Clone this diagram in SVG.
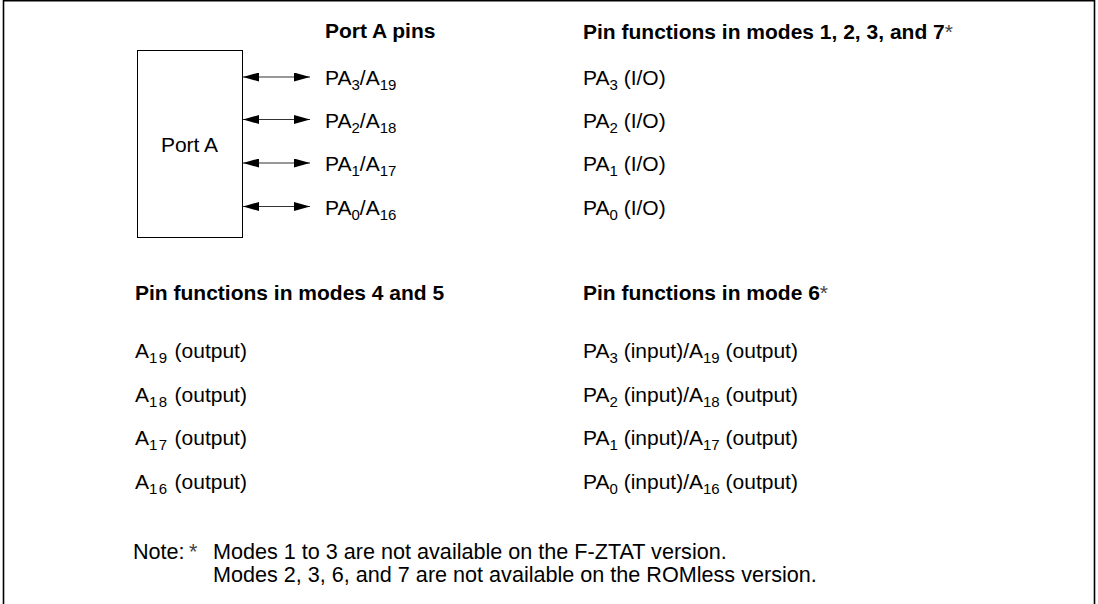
<svg xmlns="http://www.w3.org/2000/svg" width="1098" height="604" viewBox="0 0 1098 604">
<defs>
<style>
text{font-family:"Liberation Sans",Arial,sans-serif;font-size:21px;fill:#000}
.b{font-weight:bold}
.s{font-size:15px}
.sw{font-size:15px;letter-spacing:1.5px}
.n{font-size:21.6px}
.ast{font-weight:normal;fill:#444}
.ln{stroke:#333;stroke-width:1.2;fill:none}
</style>
<marker id="ah" viewBox="0 0 16 9" refX="16" refY="4.5" markerWidth="16" markerHeight="9" markerUnits="userSpaceOnUse" orient="auto-start-reverse">
<path d="M0,0 L16,4.5 L0,9 Z" fill="#000"/>
</marker>
</defs>
<rect width="1098" height="604" fill="#fff"/>
<path d="M3.5,604 V0.8 H1094.5 V604" fill="none" stroke="#000" stroke-width="1.6"/>

<g id="portA">
<rect x="137.5" y="50.5" width="105" height="187" fill="#fff" stroke="#000" stroke-width="1"/>
<text x="189.5" y="152" text-anchor="middle">Port A</text>
</g>

<g id="connectors">
<line class="ln" x1="243" y1="77" x2="310" y2="77" marker-start="url(#ah)" marker-end="url(#ah)"/>
<line class="ln" x1="243" y1="119.5" x2="310" y2="119.5" marker-start="url(#ah)" marker-end="url(#ah)"/>
<line class="ln" x1="243" y1="163" x2="310" y2="163" marker-start="url(#ah)" marker-end="url(#ah)"/>
<line class="ln" x1="243" y1="206.5" x2="310" y2="206.5" marker-start="url(#ah)" marker-end="url(#ah)"/>
</g>

<g id="pins">
<text class="b" x="325" y="38">Port A pins</text>
<text x="325" y="85">PA<tspan class="s" dy="5">3</tspan><tspan dy="-5">/A</tspan><tspan class="s" dy="5">19</tspan></text>
<text x="325" y="128">PA<tspan class="s" dy="5">2</tspan><tspan dy="-5">/A</tspan><tspan class="s" dy="5">18</tspan></text>
<text x="325" y="171">PA<tspan class="s" dy="5">1</tspan><tspan dy="-5">/A</tspan><tspan class="s" dy="5">17</tspan></text>
<text x="325" y="214.5">PA<tspan class="s" dy="5">0</tspan><tspan dy="-5">/A</tspan><tspan class="s" dy="5">16</tspan></text>
</g>

<g id="modes1237">
<text class="b" x="583" y="39">Pin functions in modes 1, 2, 3, and 7<tspan class="ast">*</tspan></text>
<text x="583" y="85">PA<tspan class="s" dy="5">3</tspan><tspan dy="-5"> (I/O)</tspan></text>
<text x="583" y="128">PA<tspan class="s" dy="5">2</tspan><tspan dy="-5"> (I/O)</tspan></text>
<text x="583" y="171">PA<tspan class="s" dy="5">1</tspan><tspan dy="-5"> (I/O)</tspan></text>
<text x="583" y="214.5">PA<tspan class="s" dy="5">0</tspan><tspan dy="-5"> (I/O)</tspan></text>
</g>

<g id="modes45">
<text class="b" x="135" y="300">Pin functions in modes 4 and 5</text>
<text x="135" y="358">A<tspan class="sw" dy="5">19</tspan><tspan dy="-5"> (output)</tspan></text>
<text x="135" y="401.5">A<tspan class="sw" dy="5">18</tspan><tspan dy="-5"> (output)</tspan></text>
<text x="135" y="445">A<tspan class="sw" dy="5">17</tspan><tspan dy="-5"> (output)</tspan></text>
<text x="135" y="488.5">A<tspan class="sw" dy="5">16</tspan><tspan dy="-5"> (output)</tspan></text>
</g>

<g id="mode6">
<text class="b" x="583" y="300">Pin functions in mode 6<tspan class="ast">*</tspan></text>
<text x="583" y="358">PA<tspan class="s" dy="5">3</tspan><tspan dy="-5"> (input)/A</tspan><tspan class="s" dy="5">19</tspan><tspan dy="-5"> (output)</tspan></text>
<text x="583" y="401.5">PA<tspan class="s" dy="5">2</tspan><tspan dy="-5"> (input)/A</tspan><tspan class="s" dy="5">18</tspan><tspan dy="-5"> (output)</tspan></text>
<text x="583" y="445">PA<tspan class="s" dy="5">1</tspan><tspan dy="-5"> (input)/A</tspan><tspan class="s" dy="5">17</tspan><tspan dy="-5"> (output)</tspan></text>
<text x="583" y="488.5">PA<tspan class="s" dy="5">0</tspan><tspan dy="-5"> (input)/A</tspan><tspan class="s" dy="5">16</tspan><tspan dy="-5"> (output)</tspan></text>
</g>

<g id="note">
<text class="n" x="133" y="559">Note:</text>
<text class="n ast" x="189" y="559">*</text>
<text class="n" x="213" y="559">Modes 1 to 3 are not available on the F-ZTAT version.</text>
<text class="n" x="213" y="582">Modes 2, 3, 6, and 7 are not available on the ROMless version.</text>
</g>
</svg>
